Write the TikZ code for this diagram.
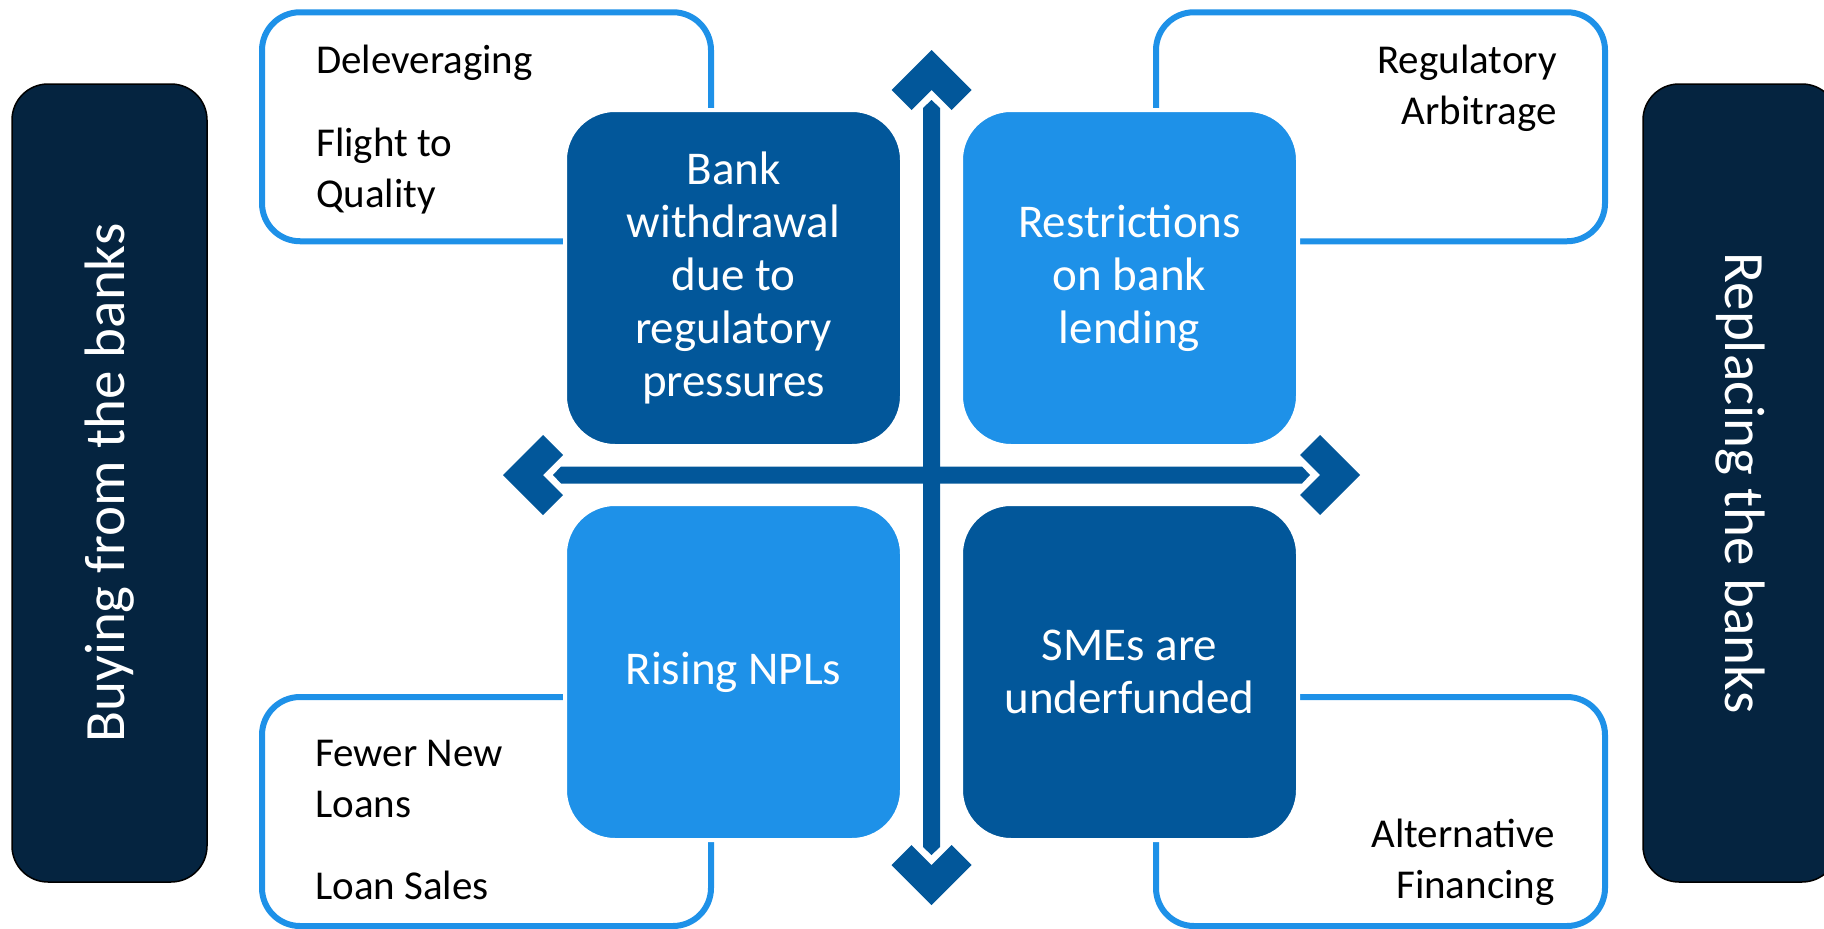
\documentclass[tikz,border=0pt]{standalone}
\usepackage{fontspec}
\setmainfont{Carlito}
\usetikzlibrary{calc}

\definecolor{navy}{RGB}{5,36,64}
\definecolor{deepblue}{RGB}{2,87,154}
\definecolor{skyblue}{RGB}{30,145,232}

\tikzset{
	sidebar/.style={rectangle, rounded corners=36pt, fill=navy, draw=black, line width=1.5pt, minimum width=798pt, minimum height=195pt, text=white, font=\fontsize{57pt}{68pt}\selectfont},
	tile/.style={rectangle, rounded corners=50pt, draw=white, line width=4pt, minimum width=337pt, minimum height=336pt, text=white, align=center, font=\fontsize{47pt}{53pt}\selectfont},
	outlinebox/.style={rectangle, rounded corners=38pt, draw=skyblue, line width=6pt, minimum width=449pt, minimum height=229pt},
	notetext/.style={inner sep=0pt, font=\fontsize{41pt}{51pt}\selectfont},
	axisbar/.style={fill=deepblue}
}

\newcommand{\chevron}[2]{\fill[axisbar, shift={(#1)}, rotate=#2] (0,0) -- (40,40) -- (20,60) -- (0,40) -- (-20,60) -- (-40,40) -- cycle;}

\begin{document}
\begin{tikzpicture}[x=1pt, y=-1pt]
		\useasboundingbox (0,0) rectangle (1824,929);
		\clip (0,0) rectangle (1824,929);
		
		\node[sidebar, rotate=90] (buy) at (109.5,483) {Buying from the banks};
		\node[sidebar, rotate=-90] (replace) at (1740.5,483) {Replacing the banks};
		
		\node[outlinebox] (tlbox) at (486.5,126.75) {};
		\node[outlinebox] (trbox) at (1380.5,126.75) {};
		\node[outlinebox] (blbox) at (486.5,811.5) {};
		\node[outlinebox] (brbox) at (1380.5,811.5) {};
		
		\node[notetext, anchor=base west, align=left] (tlnote) at (316,207) {Deleveraging\\[32pt]Flight to\\Quality};
		\node[notetext, anchor=base east, align=right] (trnote) at (1557,124) {Regulatory\\Arbitrage};
		\node[notetext, anchor=base west, align=left] (blnote) at (315,899) {Fewer New\\Loans\\[31pt]Loan Sales};
		\node[notetext, anchor=base east, align=right] (brnote) at (1555,898) {Alternative\\Financing};
		
		\node[tile, fill=deepblue] (withdrawal) at (733.5,278) {Bank\\withdrawal\\due to\\regulatory\\pressures};
		\node[tile, fill=skyblue] (restrictions) at (1129.5,278) {Restrictions\\on bank\\lending};
		\node[tile, fill=skyblue] (npl) at (733.5,672) {Rising NPLs};
		\node[tile, fill=deepblue] (sme) at (1129.5,672) {SMEs are\\underfunded};
		
		\coordinate (up) at (931.5,50);
		\coordinate (down) at (931.5,905);
		\coordinate (left) at (503,475);
		\coordinate (right) at (1360,475);
		
		\fill[axisbar] ($(up)+(-8.5,58)$) -- ($(up)+(0,50)$) -- ($(up)+(8.5,58)$) -- ($(down)+(8.5,-58)$) -- ($(down)+(0,-50)$) -- ($(down)+(-8.5,-58)$) -- cycle;
		\fill[axisbar] ($(left)+(58,-8.5)$) -- ($(left)+(50,0)$) -- ($(left)+(58,8.5)$) -- ($(right)+(-58,8.5)$) -- ($(right)+(-50,0)$) -- ($(right)+(-58,-8.5)$) -- cycle;
		\chevron{up}{0}
		\chevron{down}{180}
		\chevron{left}{90}
		\chevron{right}{-90}
\end{tikzpicture}
\end{document}
